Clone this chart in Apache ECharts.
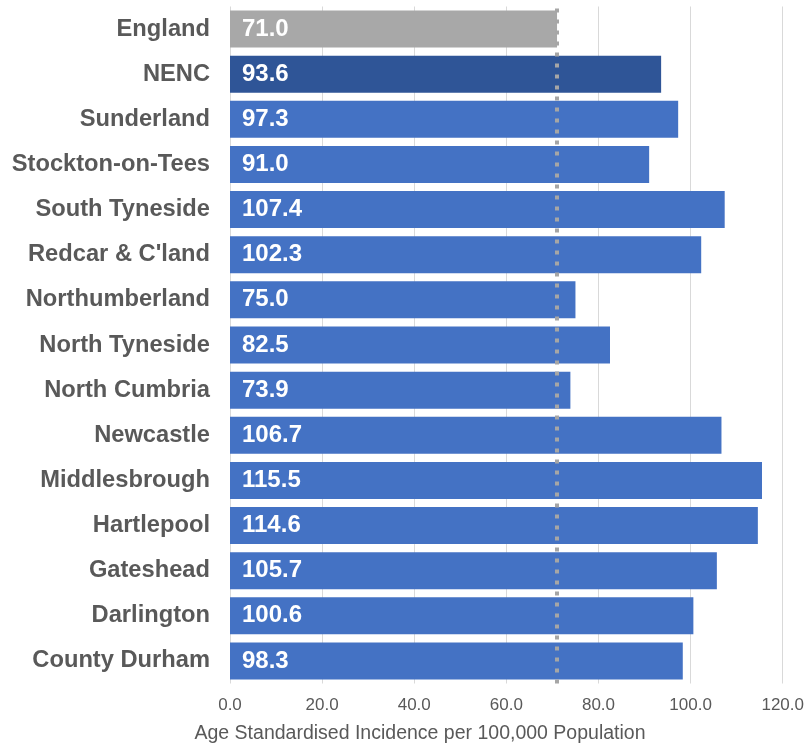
<!DOCTYPE html>
<html>
<head>
<meta charset="utf-8">
<script src="https://cdn.jsdelivr.net/npm/echarts@6/dist/echarts.min.js"></script>
<style>
  html, body { margin: 0; padding: 0; background: #ffffff; }
  #chart { width: 807px; height: 744px; }
</style>
</head>
<body>
<div id="chart"></div>
<script>
// Areas, listed top to bottom as displayed
const areas = [
  'England', 'NENC', 'Sunderland', 'Stockton-on-Tees', 'South Tyneside',
  "Redcar & C'land", 'Northumberland', 'North Tyneside', 'North Cumbria',
  'Newcastle', 'Middlesbrough', 'Hartlepool', 'Gateshead', 'Darlington',
  'County Durham'
];
// Age standardised incidence per 100,000 population
const rates = [
  71.0, 93.6, 97.3, 91.0, 107.4,
  102.3, 75.0, 82.5, 73.9,
  106.7, 115.5, 114.6, 105.7, 100.6,
  98.3
];
const englandRate = 71.0;
const xTicks = [0, 20, 40, 60, 80, 100, 120];
const xTitle = 'Age Standardised Incidence per 100,000 Population';

const barColor = '#4472C4';
const regionColor = '#2F5597';
const benchColor = '#A8A8A8';
const font = 'Liberation Sans, Arial, sans-serif';

function colorFor(name) {
  if (name === 'England') return benchColor;
  if (name === 'NENC') return regionColor;
  return barColor;
}

// category axis runs bottom-up, so reverse for top-down display
const cats = areas.slice().reverse();
const vals = rates.slice().reverse();

const chart = echarts.init(document.getElementById('chart'), null, { renderer: 'canvas' });
chart.setOption({
  animation: false,
  title: {
    text: xTitle,
    left: 420,
    top: 724,
    textAlign: 'center',
    padding: 0,
    textStyle: { color: '#595959', fontSize: 19.5, fontWeight: 'normal', fontFamily: font }
  },
  grid: { left: 230, right: 24, top: 6.5, bottom: 60.5, containLabel: false },
  xAxis: {
    type: 'value',
    min: xTicks[0],
    max: xTicks[xTicks.length - 1],
    interval: 20,
    axisLine: { show: false },
    axisTick: { show: false },
    splitLine: { show: true, lineStyle: { color: '#D9D9D9', width: 1 } },
    axisLabel: {
      color: '#595959', fontSize: 17, fontFamily: font,
      margin: 13,
      formatter: v => v.toFixed(1)
    }
  },
  yAxis: {
    type: 'category',
    data: cats,
    axisLine: { show: false },
    axisTick: { show: false },
    axisLabel: {
      color: '#595959', fontSize: 23.7, fontWeight: 'bold',
      fontFamily: font, margin: 20
    }
  },
  series: [{
    type: 'bar',
    data: vals.map((v, i) => ({ value: v, itemStyle: { color: colorFor(cats[i]) } })),
    barCategoryGap: '18%',
    label: {
      show: true,
      position: 'insideLeft',
      distance: 12,
      color: '#ffffff',
      fontSize: 24,
      fontWeight: 'bold',
      fontFamily: font,
      formatter: p => p.value.toFixed(1)
    },
    markLine: {
      silent: true,
      symbol: 'none',
      label: { show: false },
      lineStyle: { color: '#A6A6A6', width: 4, type: [4, 7], opacity: 1 },
      emphasis: { disabled: true },
      data: [{ xAxis: englandRate }]
    }
  }]
});
</script>
</body>
</html>
